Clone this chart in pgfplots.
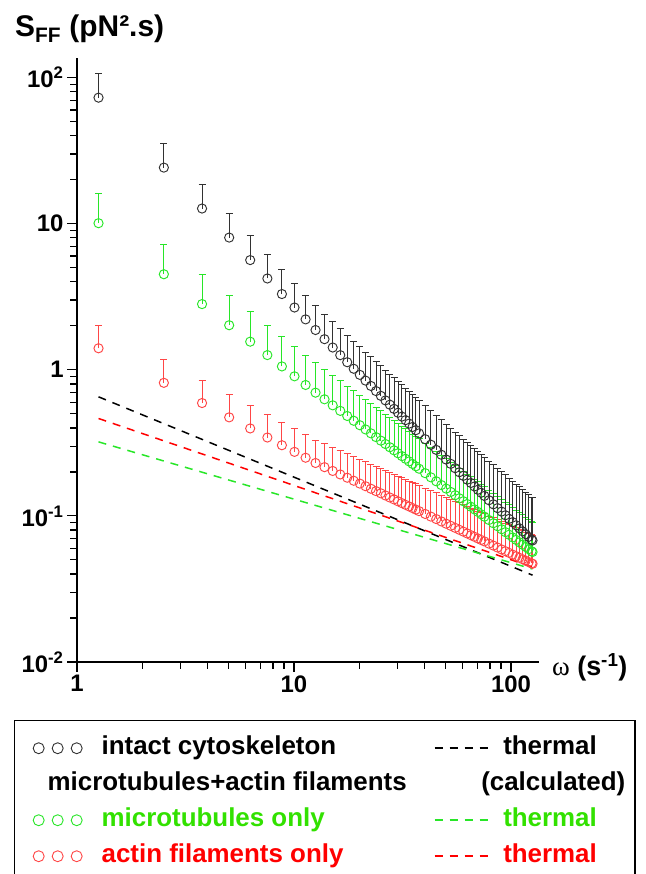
\documentclass[border=0pt]{standalone}
\usepackage{fontspec}
\setmainfont{Liberation Sans}
\newfontfamily\seriffont{Liberation Serif}
\usepackage{pgfplots}
\pgfplotsset{compat=1.18}
\usepackage{pgfplotstable}

\definecolor{cblack}{RGB}{50,50,50}
\definecolor{cgreen}{RGB}{40,230,40}
\definecolor{cred}{RGB}{255,70,70}
\definecolor{tgreen}{RGB}{50,225,0}
\definecolor{tred}{RGB}{255,0,0}

% omega, S_FF of the three preparations, relative upper errors (be, re)
\pgfplotstableread{
w b be g r re
1.2566 72.8 0.469 10.07 1.403 0.436
2.5133 24.18 0.469 4.506 0.814 0.436
3.7699 12.69 0.469 2.815 0.592 0.436
5.0265 8.03 0.469 2.017 0.4724 0.436
6.2832 5.631 0.469 1.557 0.3966 0.436
7.5398 4.214 0.469 1.260 0.3438 0.436
8.7965 3.298 0.469 1.054 0.3045 0.436
10.053 2.667 0.469 0.902 0.2743 0.436
11.310 2.212 0.469 0.787 0.2500 0.436
12.566 1.871 0.469 0.697 0.2301 0.436
13.823 1.619 0.487 0.628 0.2155 0.442
15.080 1.420 0.503 0.5710 0.2030 0.447
16.336 1.259 0.518 0.5233 0.1921 0.452
17.593 1.126 0.532 0.4827 0.1825 0.456
18.850 1.016 0.545 0.4478 0.1740 0.460
20.106 0.923 0.558 0.4172 0.1664 0.464
21.363 0.843 0.570 0.3906 0.1596 0.468
22.619 0.775 0.581 0.3671 0.1534 0.471
23.876 0.715 0.592 0.3460 0.1478 0.474
25.133 0.663 0.602 0.3272 0.1427 0.478
26.389 0.617 0.612 0.3102 0.1379 0.480
27.646 0.577 0.622 0.2949 0.1336 0.483
28.903 0.540 0.631 0.2809 0.1296 0.486
30.159 0.508 0.639 0.2682 0.1258 0.488
31.416 0.478 0.648 0.2565 0.1223 0.491
32.673 0.452 0.656 0.2458 0.1190 0.493
33.929 0.428 0.664 0.2359 0.1160 0.495
35.186 0.406 0.671 0.2267 0.1131 0.498
36.442 0.386 0.679 0.2183 0.1104 0.500
37.699 0.367 0.686 0.2103 0.1078 0.502
40.212 0.335 0.699 0.1961 0.1031 0.506
42.726 0.307 0.712 0.1836 0.0989 0.509
45.239 0.283 0.725 0.1725 0.0951 0.513
47.752 0.262 0.737 0.1626 0.0916 0.516
50.265 0.243 0.748 0.1537 0.0884 0.519
52.779 0.227 0.758 0.1458 0.0855 0.522
55.292 0.212 0.768 0.1385 0.0828 0.525
57.805 0.199 0.778 0.1320 0.0803 0.527
60.319 0.188 0.788 0.1260 0.0780 0.530
62.832 0.177 0.797 0.1205 0.0758 0.532
65.345 0.168 0.806 0.1155 0.0738 0.535
67.858 0.159 0.814 0.1108 0.0719 0.537
70.372 0.151 0.822 0.1065 0.0701 0.539
72.885 0.144 0.830 0.1025 0.0684 0.541
75.398 0.137 0.838 0.0988 0.0669 0.543
79.168 0.128 0.849 0.0937 0.0646 0.546
82.938 0.120 0.860 0.0891 0.0626 0.549
86.708 0.113 0.870 0.0849 0.0607 0.552
90.478 0.107 0.880 0.0810 0.0589 0.554
94.248 0.101 0.890 0.0774 0.0573 0.557
98.018 0.0954 0.899 0.0743 0.0558 0.559
101.79 0.0906 0.908 0.0712 0.0543 0.561
105.56 0.0862 0.917 0.0685 0.0530 0.564
109.33 0.0821 0.925 0.0659 0.0517 0.566
113.10 0.0784 0.933 0.0635 0.0505 0.568
116.87 0.0750 0.941 0.0613 0.0494 0.570
120.64 0.0718 0.949 0.0592 0.0483 0.572
124.41 0.0689 0.956 0.0573 0.0473 0.573
125.66 0.0679 0.959 0.0566 0.0470 0.574
}\sff

\pgfplotsset{
  threecirc/.style={legend image code/.code={
    \path (0bp,0bp);
    \draw[##1] (13.5bp,0bp) circle[radius=5.5bp] (32.5bp,0bp) circle[radius=5.5bp]
      (51.5bp,0bp) circle[radius=5.5bp];}},
  fourdash/.style={legend image code/.code={\draw[##1] (0bp,0bp) -- (53bp,0bp);}},
  pts/.style={forget plot, only marks, mark=o, mark size=4.6bp, #1,
    mark options={line width=0.95bp},
    error bars/y dir=plus, error bars/error mark=-,
    error bars/error bar style={line width=0.9bp, #1},
    error bars/error mark options={rotate=90, #1, line width=0.9bp, mark size=3.5bp}},
  therm/.style={forget plot, #1, line width=1.5bp, dash pattern=on 8bp off 7bp},
}

\begin{document}
\begin{tikzpicture}
\begin{axis}[
  at={(0,0)}, anchor=south west,
  width=462bp, height=604bp, scale only axis,
  xmode=log, ymode=log,
  xmin=1, xmax=134.6, ymin=0.01, ymax=136,
  axis lines=left,
  axis line style={-, line width=1.8bp, black},
  tick align=outside,
  major tick length=10bp, minor tick length=7bp,
  tick style={black, line width=1.2bp},
  xtick={1,10,100}, xticklabels={1,10,100},
  minor xtick={2,3,4,5,6,7,8,9,20,30,40,50,60,70,80,90},
  ytick={0.01,0.1,1,10,100},
  yticklabels={10\textsuperscript{-2},10\textsuperscript{-1},1,10,10\textsuperscript{2}},
  minor ytick={0.02,0.03,0.04,0.05,0.06,0.07,0.08,0.09,0.2,0.3,0.4,0.5,0.6,0.7,0.8,0.9,
    2,3,4,5,6,7,8,9,20,30,40,50,60,70,80,90},
  tick label style={font=\bfseries\fontsize{24}{28}\selectfont},
  ylabel={S\textsubscript{FF} (pN².s)},
  ylabel style={rotate=-90, at={(axis description cs:-0.1342,1.0353)},
    anchor=base west, inner sep=0pt, font=\bfseries\fontsize{30}{34}\selectfont},
  xlabel={{\seriffont\mdseries ω} (s\textsuperscript{-1})},
  xlabel style={at={(axis description cs:1.028,-0.008)}, anchor=west,
    inner sep=0pt, font=\bfseries\fontsize{27}{30}\selectfont},
  clip=false,
  legend columns=2,
  legend cell align=left,
  legend style={at={(axis description cs:-0.1364,-0.0960)}, anchor=north west,
    draw=black, line width=1.5bp, inner xsep=10bp, inner ysep=15bp,
    font=\bfseries\fontsize{26}{30}\selectfont,
    nodes={inner sep=0bp, text height=19bp, text depth=6bp},
    row sep=11bp,
    /tikz/column 1/.style={column sep=19bp},
    /tikz/column 2/.style={column sep=27bp},
    /tikz/column 3/.style={column sep=15bp}},
]

\addplot[pts=cred, error bars/y explicit relative] table[x=w, y=r, y error=re] {\sff};
\addplot[pts=cgreen, error bars/y fixed relative=0.603] table[x=w, y=g] {\sff};
\addplot[pts=cblack, error bars/y explicit relative] table[x=w, y=b, y error=be] {\sff};

\addplot[therm=black] coordinates {(1.2566,0.653) (125.66,0.0393)};
\addplot[therm=cgreen] coordinates {(1.2566,0.321) (125.66,0.0433)};
\addplot[therm=tred] coordinates {(1.2566,0.464) (125.66,0.0446)};

\addlegendimage{threecirc, cblack, line width=0.9bp}
\addlegendentry{intact cytoskeleton}
\addlegendimage{fourdash, black, line width=1.5bp, dash pattern=on 8bp off 7bp}
\addlegendentry{thermal}
\addlegendimage{empty legend}
\addlegendentry{\hspace*{-54bp}microtubules+actin filaments}
\addlegendimage{empty legend}
\addlegendentry{\hspace*{-22bp}(calculated)}
\addlegendimage{threecirc, cgreen, line width=0.9bp}
\addlegendentry{\textcolor{tgreen}{microtubules only}}
\addlegendimage{fourdash, cgreen, line width=1.5bp, dash pattern=on 8bp off 7bp}
\addlegendentry{\textcolor{tgreen}{thermal}}
\addlegendimage{threecirc, cred, line width=0.9bp}
\addlegendentry{\textcolor{tred}{actin filaments only}}
\addlegendimage{fourdash, tred, line width=1.5bp, dash pattern=on 8bp off 7bp}
\addlegendentry{\textcolor{tred}{thermal}}
\end{axis}
\pgfresetboundingbox
\path[use as bounding box] (-77bp,-212bp) rectangle (569bp,662bp);
\end{tikzpicture}
\end{document}
